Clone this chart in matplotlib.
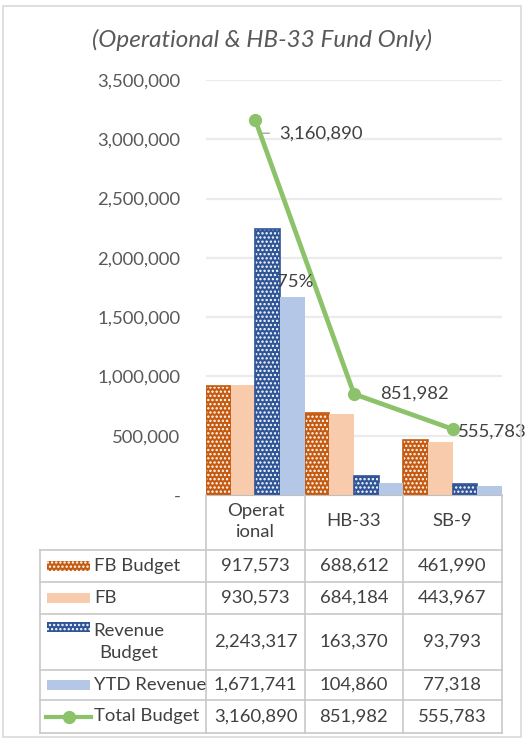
import matplotlib
matplotlib.use("Agg")
import matplotlib.pyplot as plt
from matplotlib.lines import Line2D
from matplotlib.patches import Rectangle
import numpy as np

plt.rcParams['font.family'] = ['Lato', 'DejaVu Sans']
plt.rcParams['hatch.linewidth'] = 1.1

title = "(Operational & HB-33 Fund Only)"
categories = ["Operat\nional", "HB-33", "SB-9"]
series_names = ["FB Budget", "FB", "Revenue\nBudget", "YTD Revenue", "Total Budget"]
fb_budget = [917573, 688612, 461990]
fb = [930573, 684184, 443967]
revenue_budget = [2243317, 163370, 93793]
ytd_revenue = [1671741, 104860, 77318]
total_budget = [3160890, 851982, 555783]
yticks = [0, 500000, 1000000, 1500000, 2000000, 2500000, 3000000, 3500000]

W, H = 527, 738
fig = plt.figure(figsize=(W / 100, H / 100), dpi=100)

def fx(px):
    return px / W

def fy(py):
    return 1 - py / H

TXT = "#404040"
GRID = "#EBEBEB"
TBL = "#C8C8C8"
FS = 13.3

# outer chart border
fig.add_artist(Rectangle((fx(3), fy(737)), fx(518), fy(6) - fy(737),
                         transform=fig.transFigure, fill=False,
                         edgecolor="#D9D9D9", lw=1.2))

ax_l, ax_r, ax_t, ax_b = 206, 502, 80, 495
ax = fig.add_axes([fx(ax_l), fy(ax_b), fx(ax_r) - fx(ax_l), fy(ax_t) - fy(ax_b)])
ax.set_xlim(-0.5, 2.5)
ax.set_ylim(0, 3500000)

x = np.arange(len(categories))
w = 0.25
bar_specs = [
    (fb_budget, "#C55A11", True),
    (fb, "#F8CBAD", False),
    (revenue_budget, "#2F5597", True),
    (ytd_revenue, "#B4C7E7", False),
]
offsets = [-1.5, -0.5, 0.5, 1.5]
for (vals, col, hatched), off in zip(bar_specs, offsets):
    if hatched:
        ax.bar(x + off * w, vals, width=w, color=col, edgecolor="white",
               hatch="....", linewidth=0, zorder=2)
        ax.bar(x + off * w, vals, width=w, fill=False, edgecolor=col,
               linewidth=1.2, zorder=2)
    else:
        ax.bar(x + off * w, vals, width=w, color=col, linewidth=0, zorder=2)

LINE_C = "#8CC26A"
ax.plot(x, total_budget, color=LINE_C, lw=3.4, marker="o", ms=8.5,
        markerfacecolor=LINE_C, markeredgecolor=LINE_C, zorder=4)

# data labels for total budget
lab_off = [(0.245, -110000), (0.26, 0), (0.05, -20000)]
for xi, v, (dx, dy) in zip(x, total_budget, lab_off):
    ax.text(xi + dx, v + dy, f"{v:,}", ha="left", va="center", fontsize=FS,
            color=TXT, zorder=5)
ax.plot([x[0], x[0] + 0.04, x[0] + 0.14], [total_budget[0], total_budget[0] - 110000,
        total_budget[0] - 110000], color="#A6A6A6", lw=1, zorder=3)

pct = ytd_revenue[0] / revenue_budget[0]
ax.text(x[0] + 1.5 * w + 0.03, ytd_revenue[0] + 60000, f"{pct:.0%}", ha="center",
        va="bottom", fontsize=FS, color=TXT, zorder=5)

ax.set_yticks(yticks)
ax.set_yticklabels(["-" if t == 0 else f"{t:,}" for t in yticks], fontsize=FS,
                   color="#595959")
ax.tick_params(axis="y", length=0, pad=18.5)
ax.set_xticks([])
ax.grid(axis="y", color=GRID, lw=1.6, zorder=0)
ax.set_axisbelow(True)
for s in ["top", "right", "left"]:
    ax.spines[s].set_visible(False)
ax.spines["bottom"].set_color("#BFBFBF")

fig.text(fx(262), fy(40), title, ha="center", va="center", fontsize=17.5,
         style="italic", color="#595959")

# data table
col_x = [206, 305, 403, 502]
row_y = [495, 550, 582, 614, 670, 700, 733]
left_x = 40

def hline(y, x0, x1):
    fig.add_artist(Line2D([fx(x0), fx(x1)], [fy(y), fy(y)], color=TBL, lw=1.2,
                          transform=fig.transFigure))

def vline(xp, y0, y1):
    fig.add_artist(Line2D([fx(xp), fx(xp)], [fy(y0), fy(y1)], color=TBL, lw=1.2,
                          transform=fig.transFigure))

for xp in col_x:
    vline(xp, row_y[0], row_y[-1])
vline(left_x, row_y[1], row_y[-1])
for yp in row_y[1:]:
    hline(yp, left_x, col_x[-1])

for j, c in enumerate(categories):
    fig.text(fx((col_x[j] + col_x[j + 1]) / 2), fy((row_y[0] + row_y[1]) / 2 - 1), c,
             ha="center", va="center", fontsize=FS, color=TXT, linespacing=1.45)

all_vals = [fb_budget, fb, revenue_budget, ytd_revenue, total_budget]
key_cols = ["#C55A11", "#F8CBAD", "#2F5597", "#B4C7E7"]
for i, (name, vals) in enumerate(zip(series_names, all_vals)):
    y0, y1 = row_y[i + 1], row_y[i + 2]
    yc = (y0 + y1) / 2
    for j, v in enumerate(vals):
        fig.text(fx((col_x[j] + col_x[j + 1]) / 2), fy(yc), f"{v:,}", ha="center",
                 va="center", fontsize=FS, color=TXT)
    if "\n" in name:
        fig.text(fx(129), fy(yc), name, ha="center", va="center", fontsize=FS,
                 color=TXT, multialignment="center", linespacing=1.45)
        key_y = y0 + 13
    else:
        fig.text(fx(94), fy(yc), name, ha="left", va="center", fontsize=FS,
                 color=TXT)
        key_y = yc
    if i < 4:
        hatched = i in (0, 2)
        fig.add_artist(Rectangle((fx(47), fy(key_y + 5)), fx(43), fy(key_y - 5) - fy(key_y + 5),
                                 transform=fig.transFigure, facecolor=key_cols[i],
                                 edgecolor="white" if hatched else key_cols[i],
                                 hatch="...." if hatched else None, lw=0))
    else:
        fig.add_artist(Line2D([fx(46), fx(91)], [fy(key_y), fy(key_y)], color=LINE_C,
                              lw=3, transform=fig.transFigure))
        fig.add_artist(Line2D([fx(68.5)], [fy(key_y)], color=LINE_C, marker="o", ms=8.5,
                              transform=fig.transFigure))

fig.savefig("out.png", dpi=100)
